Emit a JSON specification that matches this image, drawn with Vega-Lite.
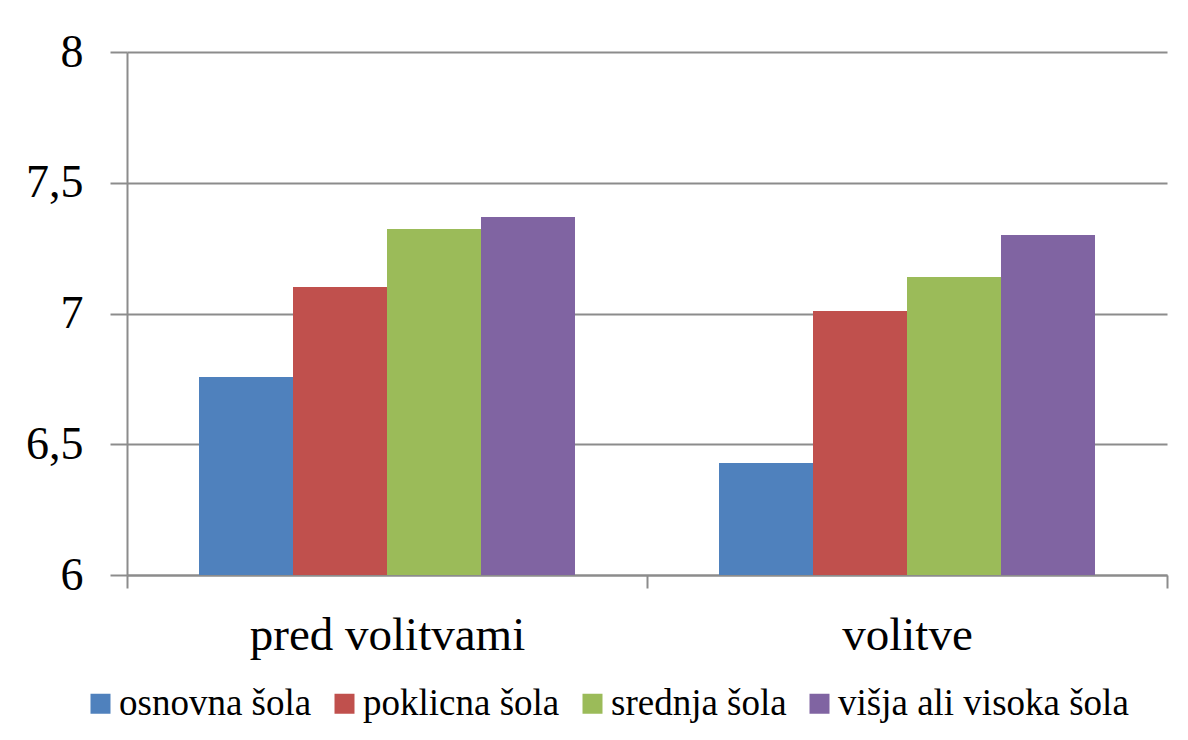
{
  "$schema": "https://vega.github.io/schema/vega-lite/v6.json",
  "width": 1040,
  "height": 523,
  "autosize": {"type": "none"},
  "padding": {"left": 127, "top": 52, "right": 21, "bottom": 165},
  "background": "white",
  "config": {
    "font": "Liberation Serif",
    "view": {"stroke": null},
    "axis": {"labelFont": "Liberation Serif", "labelColor": "black"},
    "legend": {"labelFont": "Liberation Serif"}
  },
  "data": {
    "values": [
      {"obdobje": "pred volitvami", "izobrazba": "osnovna šola", "vrednost": 6.757},
      {"obdobje": "pred volitvami", "izobrazba": "poklicna šola", "vrednost": 7.101},
      {"obdobje": "pred volitvami", "izobrazba": "srednja šola", "vrednost": 7.323},
      {"obdobje": "pred volitvami", "izobrazba": "višja ali visoka šola", "vrednost": 7.369},
      {"obdobje": "volitve", "izobrazba": "osnovna šola", "vrednost": 6.428},
      {"obdobje": "volitve", "izobrazba": "poklicna šola", "vrednost": 7.01},
      {"obdobje": "volitve", "izobrazba": "srednja šola", "vrednost": 7.14},
      {"obdobje": "volitve", "izobrazba": "višja ali visoka šola", "vrednost": 7.3}
    ]
  },
  "mark": {"type": "bar", "clip": true},
  "encoding": {
    "x": {
      "field": "obdobje",
      "type": "nominal",
      "sort": ["pred volitvami", "volitve"],
      "scale": {"paddingInner": 0, "paddingOuter": 0},
      "axis": {
        "title": null,
        "labelAngle": 0,
        "labelFont": "Liberation Serif",
        "labelFontSize": 47,
        "labelPadding": 24,
        "labelLimit": 0,
        "tickBand": "extent",
        "tickSize": 13,
        "tickColor": "#8c8c8c",
        "tickWidth": 2,
        "domainColor": "#8c8c8c",
        "domainWidth": 2,
        "grid": false
      }
    },
    "xOffset": {
      "field": "izobrazba",
      "type": "nominal",
      "sort": ["osnovna šola", "poklicna šola", "srednja šola", "višja ali visoka šola"],
      "scale": {"paddingInner": 0, "paddingOuter": 0.766}
    },
    "y": {
      "field": "vrednost",
      "type": "quantitative",
      "scale": {"domain": [6, 8], "zero": false, "nice": false},
      "axis": {
        "title": null,
        "values": [6, 6.5, 7, 7.5, 8],
        "labelExpr": "replace(format(datum.value, ''), '.', ',')",
        "labelFont": "Liberation Serif",
        "labelFontSize": 46,
        "labelPadding": 27,
        "tickSize": 17,
        "tickColor": "#8c8c8c",
        "tickWidth": 2,
        "domainColor": "#8c8c8c",
        "domainWidth": 2,
        "grid": true,
        "gridColor": "#8c8c8c",
        "gridWidth": 2
      }
    },
    "color": {
      "field": "izobrazba",
      "type": "nominal",
      "sort": ["osnovna šola", "poklicna šola", "srednja šola", "višja ali visoka šola"],
      "scale": {
        "domain": ["osnovna šola", "poklicna šola", "srednja šola", "višja ali visoka šola"],
        "range": ["#4F81BD", "#C0504D", "#9BBB59", "#8064A2"]
      },
      "legend": {
        "title": null,
        "orient": "none",
        "legendX": -45,
        "legendY": 633,
        "direction": "horizontal",
        "columns": 4,
        "symbolType": "square",
        "symbolSize": 400,
        "symbolStrokeWidth": 0,
        "labelFont": "Liberation Serif",
        "labelFontSize": 37,
        "labelOffset": 0,
        "labelLimit": 0,
        "columnPadding": 14,
        "labelColor": "black"
      }
    }
  }
}
